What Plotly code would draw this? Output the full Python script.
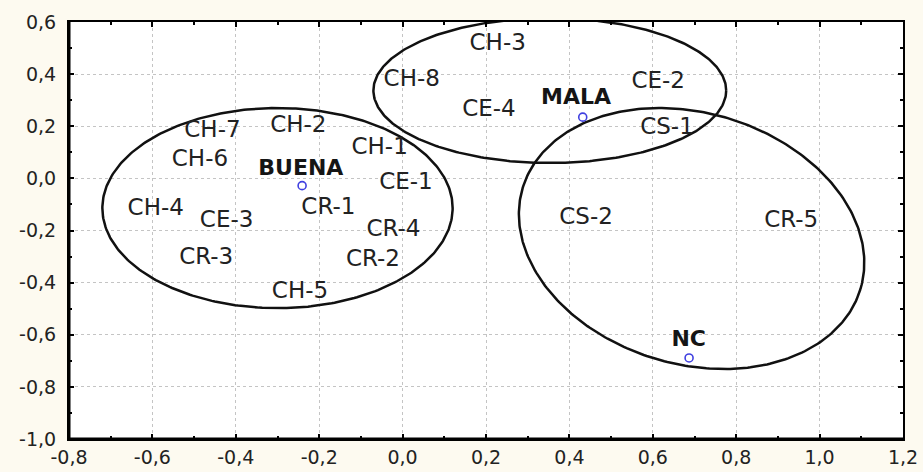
import numpy as np
import plotly.graph_objects as go

# ---- data ----
labels = ["CH-3", "CH-8", "CE-4", "CE-2", "CS-1", "CH-7", "CH-2", "CH-1", "CH-6",
          "CE-1", "CH-4", "CE-3", "CR-1", "CR-4", "CR-3", "CR-2", "CH-5", "CS-2", "CR-5"]
label_x = [0.228, 0.022, 0.207, 0.613, 0.634, -0.456, -0.250, -0.055, -0.486,
           0.008, -0.592, -0.422, -0.178, -0.022, -0.471, -0.071, -0.246, 0.440, 0.932]
label_y = [0.514, 0.377, 0.262, 0.368, 0.191, 0.180, 0.199, 0.115, 0.071,
           -0.020, -0.119, -0.165, -0.114, -0.198, -0.307, -0.313, -0.438, -0.154, -0.165]

groups = ["BUENA", "MALA", "NC"]
group_label_x = [-0.244, 0.416, 0.686]
group_label_y = [0.034, 0.305, -0.622]
group_x = [-0.241, 0.432, 0.687]
group_y = [-0.028, 0.235, -0.689]

# ellipses: centre and two conjugate semi-axis vectors (data units)
ell_cx = [-0.300, 0.353, 0.693]
ell_cy = [-0.114, 0.337, -0.2306]
ell_ux = [0.420, 0.423, 0.405]
ell_uy = [0.0, 0.0, -0.194]
ell_vx = [0.0, 0.0, -0.0867]
ell_vy = [0.384, 0.278, -0.4616]

x_ticks = [-0.8, -0.6, -0.4, -0.2, 0.0, 0.2, 0.4, 0.6, 0.8, 1.0, 1.2]
x_ticktext = ["-0,8", "-0,6", "-0,4", "-0,2", "0,0", "0,2", "0,4", "0,6", "0,8", "1,0", "1,2"]
y_ticks = [-1.0, -0.8, -0.6, -0.4, -0.2, 0.0, 0.2, 0.4, 0.6]
y_ticktext = ["-1,0", "-0,8", "-0,6", "-0,4", "-0,2", "0,0", "0,2", "0,4", "0,6"]

FONT = "DejaVu Sans"

fig = go.Figure()

t = np.linspace(0, 2 * np.pi, 361)
for cx, cy, ux, uy, vx, vy in zip(ell_cx, ell_cy, ell_ux, ell_uy, ell_vx, ell_vy):
    fig.add_trace(go.Scatter(
        x=cx + ux * np.cos(t) + vx * np.sin(t),
        y=cy + uy * np.cos(t) + vy * np.sin(t),
        mode="lines", line=dict(color="#111111", width=2.5),
        hoverinfo="skip", showlegend=False))

fig.add_trace(go.Scatter(
    x=label_x, y=label_y, mode="text", text=labels,
    textposition="middle center",
    textfont=dict(family=FONT, size=23, color="#222222"),
    showlegend=False, cliponaxis=False))

fig.add_trace(go.Scatter(
    x=group_label_x, y=group_label_y, mode="text",
    text=["<b>" + g + "</b>" for g in groups],
    textposition="middle center",
    textfont=dict(family=FONT, size=22, color="#151515"),
    showlegend=False, cliponaxis=False))

fig.add_trace(go.Scatter(
    x=group_x, y=group_y, mode="markers",
    marker=dict(symbol="circle-open", size=8, color="#4040e0", line=dict(width=1.6)),
    showlegend=False, cliponaxis=False))

axis_common = dict(
    showline=True, linecolor="black", linewidth=2, mirror="ticks",
    ticks="inside", ticklen=5, tickwidth=2, tickcolor="black",
    showgrid=True, gridcolor="#c4c4c4", griddash="dot", gridwidth=1,
    zeroline=False, automargin=False,
    minor=dict(ticks="inside", ticklen=3, tickwidth=2, tickcolor="black", dtick=0.1, showgrid=False),
    tickfont=dict(family=FONT, size=19, color="#222222"),
)

fig.update_xaxes(range=[-0.8, 1.2], tickvals=x_ticks, ticktext=x_ticktext,
                 ticklabelstandoff=0, **axis_common)
fig.update_yaxes(range=[-1.0, 0.6], tickvals=y_ticks, ticktext=y_ticktext,
                 ticklabelstandoff=7, **axis_common)

# thicker left and bottom frame lines
fig.add_shape(type="line", xref="paper", yref="paper", x0=0, x1=0, y0=0, y1=1,
              line=dict(color="black", width=3))
fig.add_shape(type="line", xref="paper", yref="paper", x0=0, x1=1, y0=0, y1=0,
              line=dict(color="black", width=3))

fig.update_layout(
    width=923, height=472,
    margin=dict(l=69, r=20, t=22, b=33),
    paper_bgcolor="#fdfaf0", plot_bgcolor="white",
    showlegend=False,
)

fig.write_html(
    "out.html",
    config={"displayModeBar": False},
    post_script="document.body.style.margin='0px';document.body.style.overflow='hidden';",
)
